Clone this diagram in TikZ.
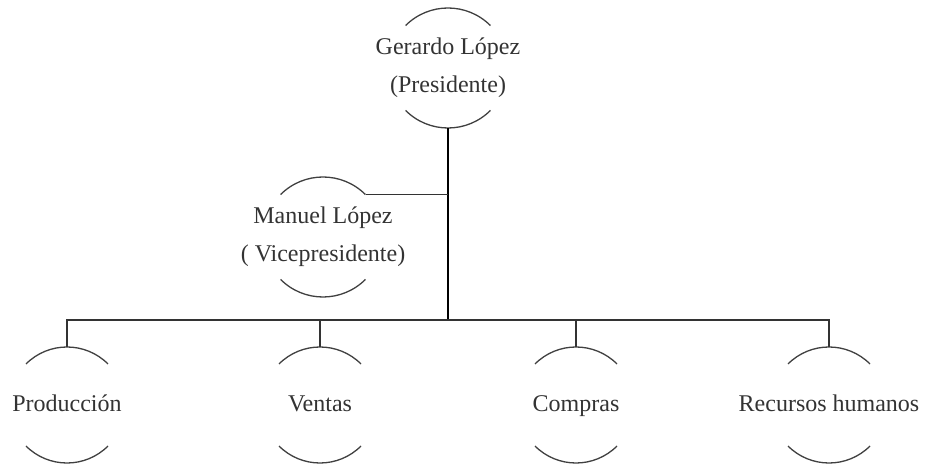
\documentclass[tikz,border=0pt]{standalone}
\usepackage{fontspec}
\setmainfont{Liberation Serif}
\begin{document}
\begin{tikzpicture}[x=1pt,y=1pt,
    ring/.style={circle, minimum size=#1, inner sep=0pt},
    name text/.style={align=center, font=\fontsize{24}{38}\selectfont, text=black!80, inner sep=0pt},
    one line/.style={name text, text height=18pt, text depth=4pt},
    org line/.style={draw=black!80, line width=1.6pt},
    arc line/.style={draw=black!75, line width=1.3pt}]
    \useasboundingbox (0,0) rectangle (926,468);
    % circles (only the top and bottom arcs are drawn)
    \node[ring=120pt] (pres) at (448,400) {};
    \node[ring=120pt] (vice) at (323,231) {};
    \node[ring=116pt] (prod) at (67,63) {};
    \node[ring=116pt] (vent) at (320,63) {};
    \node[ring=116pt] (comp) at (576,63) {};
    \node[ring=116pt] (rrhh) at (829,63) {};
    \foreach \n/\r in {pres/60,vice/60,prod/58,vent/58,comp/58,rrhh/58} {
        \draw[arc line] ([shift={(135:\r)}]\n.center) arc[start angle=135, end angle=45, radius=\r];
        \draw[arc line] ([shift={(-135:\r)}]\n.center) arc[start angle=-135, end angle=-45, radius=\r];
    }
    % texts
    \node[name text] (pres text) at (pres.center) {Gerardo López\\(Presidente)};
    \node[name text] (vice text) at (vice.center) {Manuel López\\( Vicepresidente)};
    \node[one line] (prod text) at (prod.center) {Producción};
    \node[one line] (vent text) at (vent.center) {Ventas};
    \node[one line] (comp text) at (comp.center) {Compras};
    \node[one line] (rrhh text) at (rrhh.center) {Recursos humanos};
    % connectors
    \coordinate (hub) at ([yshift=27pt]prod.north -| pres.south);
    \draw[org line, draw=black] (pres.south) -- (hub);
    \draw[org line] (vice.45) -- (vice.45 -| hub);
    \draw[org line] (prod.north) |- (hub) -| (rrhh.north);
    \draw[org line] (vent.north) -- (vent.north |- hub);
    \draw[org line] (comp.north) -- (comp.north |- hub);
\end{tikzpicture}
\end{document}
